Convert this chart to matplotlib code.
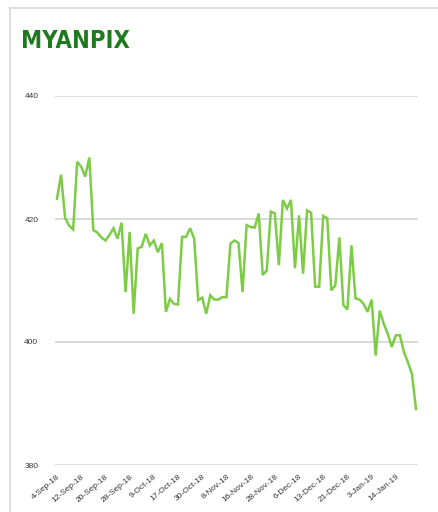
"""MYANPIX daily index line chart (Sep 2018 - Jan 2019)."""
import matplotlib
matplotlib.use("Agg")
import matplotlib.pyplot as plt
from matplotlib.lines import Line2D
from matplotlib import font_manager

# index closes, one per trading day
index_values = [
    423.3, 427.2, 420.2, 418.9, 418.3, 429.3, 428.5, 426.9, 430.0, 418.2,
    417.8, 417.0, 416.5, 417.4, 418.5, 416.8, 419.4, 408.1, 417.9, 404.6,
    415.2, 415.5, 417.6, 415.7, 416.5, 414.6, 416.1, 404.9, 407.0, 406.2,
    406.1, 417.1, 417.1, 418.5, 416.8, 406.8, 407.2, 404.6, 407.6, 406.9,
    406.9, 407.3, 407.3, 416.0, 416.5, 416.1, 408.1, 419.0, 418.7, 418.6,
    420.9, 410.9, 411.6, 421.2, 420.9, 412.5, 423.1, 421.7, 423.1, 412.0,
    420.6, 411.1, 421.4, 421.0, 409.0, 409.0, 420.5, 420.1, 408.4, 409.2,
    417.0, 406.0, 405.3, 415.7, 407.1, 406.9, 406.2, 404.9, 406.9, 397.8,
    405.1, 403.0, 401.3, 399.2, 401.1, 401.1, 398.4, 396.7, 394.8, 389.1,
]

# every sixth trading day gets a date label
date_labels = [
    "4-Sep-18", "12-Sep-18", "20-Sep-18", "28-Sep-18", "9-Oct-18",
    "17-Oct-18", "30-Oct-18", "8-Nov-18", "16-Nov-18", "28-Nov-18",
    "6-Dec-18", "13-Dec-18", "21-Dec-18", "3-Jan-19", "14-Jan-19",
]
label_step = 6
y_ticks = [380, 400, 420, 440]

# prefer a condensed face for the title if one is installed
title_props = font_manager.FontProperties(family="DejaVu Sans", weight="bold", stretch="condensed")
title_file = font_manager.findfont(title_props)
condensed = "condensed" in title_file.lower()

W, H = 439, 512
fig = plt.figure(figsize=(W / 100, H / 100), dpi=100)
fig.patch.set_facecolor("white")

# axes box in pixel terms: x 55..418, y 96..465
ax = fig.add_axes([55 / W, 1 - 465 / H, (418 - 55) / W, (465 - 96) / H])

x = list(range(len(index_values)))
ax.plot(x, index_values, color="#7dcc45", linewidth=1.8, solid_joinstyle="miter", zorder=3)

ax.set_xlim(-0.5, len(index_values) - 0.5)
ax.set_ylim(380, 440)
ax.set_yticks(y_ticks)
ax.set_yticklabels([str(v) for v in y_ticks], fontsize=6, family="Liberation Sans", color="#333333")
ax.yaxis.grid(True, color="#d9d9d9", linewidth=1.4)
ax.set_axisbelow(True)

tick_pos = [i * label_step for i in range(len(date_labels))]
ax.set_xticks(tick_pos)
ax.set_xticklabels(date_labels, rotation=40, ha="right", rotation_mode="anchor",
                   fontsize=6, family="Liberation Sans", color="#333333")
ax.tick_params(axis="both", length=0)
ax.tick_params(axis="y", pad=12)
ax.tick_params(axis="x", pad=6)
for side in ax.spines.values():
    side.set_visible(False)

# light frame round the chart (top and left edges)
fig.add_artist(Line2D([10 / W, 10 / W], [0, 1 - 8 / H], color="#d9d9d9", linewidth=1.2))
fig.add_artist(Line2D([10 / W, 1], [1 - 8 / H, 1 - 8 / H], color="#d9d9d9", linewidth=1.2))

if condensed:
    fig.text(21 / W, 1 - 48 / H, "MYANPIX", fontsize=17, fontweight="bold",
             family="DejaVu Sans", fontstretch="condensed",
             color="#1f7a1f", va="baseline", ha="left")
else:
    fig.text(21 / W, 1 - 48 / H, "MYANPIX", fontsize=15, fontweight="bold",
             family="Liberation Sans", color="#1f7a1f", va="baseline", ha="left")

fig.savefig("out.png", dpi=100, facecolor="white")
plt.close(fig)
